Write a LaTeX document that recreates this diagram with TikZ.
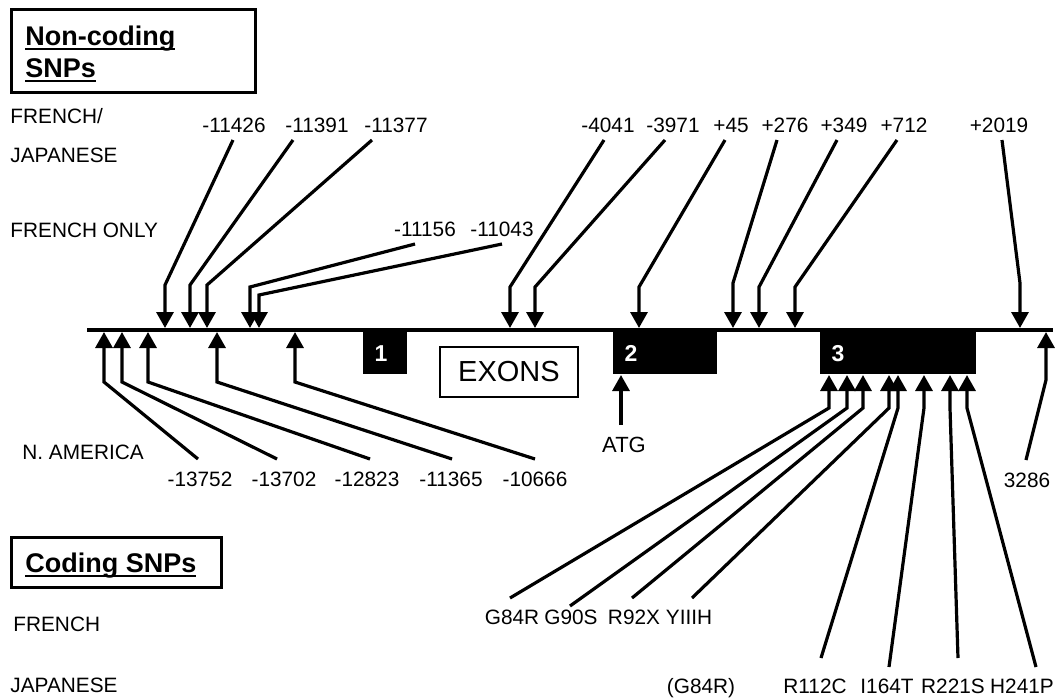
\documentclass[tikz,border=0pt]{standalone}
\usepackage{fontspec}
\setmainfont{Liberation Sans}
\usetikzlibrary{calc,arrows.meta}
% underline that sits close under the baseline, as in the figure
\newcommand{\snpul}[1]{\setbox0\hbox{#1}\rlap{\rule[-2.5pt]{\wd0}{1pt}}\box0}

\begin{document}
\begin{tikzpicture}[x=0.5pt, y=-0.5pt,
  snp/.style={line width=1.6pt, -{Triangle[length=8pt,width=8.5pt]}},
  lab/.style={font=\fontsize{10.4}{12}\selectfont, inner sep=0pt, anchor=base},
  grp/.style={lab, anchor=base west},
  titletxt/.style={font=\fontsize{13.5}{16}\selectfont\bfseries, inner sep=0pt, anchor=base west},
  exon/.style={fill=black, draw=none, inner sep=0pt, anchor=north west},
  exnum/.style={font=\fontsize{11.5}{13}\selectfont\bfseries, text=white, inner sep=0pt}]
% Gene map in pixel units (y grows downward). Baseline at y=330,
% non-coding SNPs hang from above, coding SNPs point into exon 3.
\fill[white] (0,0) rectangle (1056,698);
\useasboundingbox (0,0) rectangle (1056,698);
% Title boxes
\draw[line width=1.5pt] (11,9) rectangle (255,92);
\node[titletxt] (nc1) at (25,45) {\snpul{Non-coding}};
\node[titletxt] (nc2) at (25,77) {\snpul{SNPs}};
\draw[line width=1.5pt] (11,537) rectangle (221,587);
\node[titletxt] (cs) at (25,572) {\snpul{Coding SNPs}};
% Population labels down the left side
\node[grp] (gfj1) at (10,123) {FRENCH/};
\node[grp] (gfj2) at (10,162) {JAPANESE};
\node[grp] (gfo)  at (10,237) {FRENCH ONLY};
\node[grp] (gna)  at (22,459) {N. AMERICA};
\node[grp] (gcf)  at (13,631) {FRENCH};
\node[grp] (gcj)  at (10,692) {JAPANESE};
% Gene line and exons
\coordinate (gstart) at (87,330);
\coordinate (gend) at (1053,330);
\draw[line width=2pt] (gstart) -- (gend);
\foreach \n/\xa/\xb in {1/363/407, 2/613/717, 3/820/976} {
  \pgfmathsetmacro\w{(\xb-\xa)/2}
  \node[exon, minimum width=\w pt, minimum height=23pt] (e\n) at (\xa,328) {};
  \node[exnum] (n\n) at ($(e\n.west)+(18,2)$) {\n};
}
\node[draw, line width=0.6pt, minimum width=69pt, minimum height=25pt,
  font=\fontsize{14.5}{16}\selectfont, inner sep=0pt] (exons) at (509,372) {EXONS};
% Non-coding SNPs above the line: label, kink, tip
\foreach \n/\txt/\lx/\by/\dx/\tx/\ky in {
  1/-11426/234/132/-1/165/285, 2/-11391/317/132/-24/190/285,
  3/-11377/396/132/-24/207/285, 4/-11156/425/236/-10/250/287,
  5/-11043/502/236/0/259/295, 6/-4041/608/132/-4/510/287,
  7/-3971/673/132/-8/535/287, 8/+45/731/132/-6/639/287,
  9/+276/785/132/-8/733/283, 10/+349/844/132/-7/759/287,
  11/+712/904/132/-7/795/287, 12/+2019/999/132/3/1020/283}
{
  \node[lab] (t\n) at (\lx,\by) {\txt};
  \coordinate (dt\n) at (\tx,328);
  \draw[snp] ($(t\n.base)+(\dx,8)$) -- (\tx,\ky) -- (dt\n);
}
% Non-coding SNPs below the line (N. America)
\foreach \n/\txt/\lx/\dx/\tx in {1/-13752/200/-2/104, 2/-13702/284/-7/122,
  3/-12823/367/3/148, 4/-11365/451/1/217, 5/-10666/535/0/295}
{
  \node[lab] (b\n) at (\lx,486) {\txt};
  \coordinate (ub\n) at (\tx,332);
  \draw[snp] ($(b\n.base)+(\dx,-27)$) -- (\tx,382) -- (ub\n);
}
\node[lab] (b6) at (1027,487) {3286};
\coordinate (ub6) at (1046,332);
\draw[snp] ($(b6.base)+(-1,-27)$) -- (1046,380) -- (ub6);
% Start codon
\node[lab, font=\fontsize{11}{13}\selectfont] (atg) at (624,452) {ATG};
\coordinate (uatg) at (621,375);
\draw[snp] ($(atg.base)+(-3,-27)$) -- (uatg);
% Coding SNPs into exon 3: French row
\foreach \n/\txt/\lx/\dx/\dy/\tx in {1/G84R/512/-2/26/829, 2/G90S/571/-1/18/847,
  3/R92X/634/-2/26/863, 4/YIIIH/689/3/26/889}
{
  \node[lab] (cf\n) at (\lx,624) {\txt};
  \coordinate (uc\n) at (\tx,375);
  \draw[snp] ($(cf\n.base)+(\dx,-\dy)$) -- (\tx,408) -- (uc\n);
}
% Japanese row
\foreach \n/\txt/\lx/\dx/\dy/\tx in {1/R112C/815/6/35/898, 2/I164T/887/2/26/924,
  3/R221S/953/5/35/950, 4/H241P/1022/14/26/967}
{
  \node[lab] (cj\n) at (\lx,693) {\txt};
  \coordinate (uj\n) at (\tx,375);
  \draw[snp] ($(cj\n.base)+(\dx,-\dy)$) -- (\tx,408) -- (uj\n);
}
\node[lab] (cj0) at (701,693) {(G84R)};
\end{tikzpicture}
\end{document}
